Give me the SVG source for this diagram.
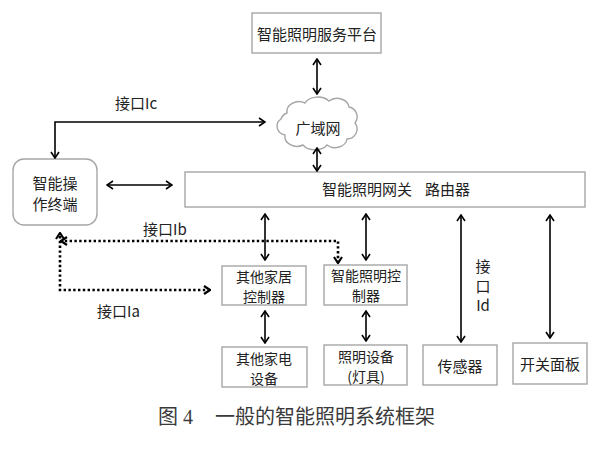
<svg xmlns="http://www.w3.org/2000/svg" width="615" height="449" viewBox="0 0 615 449">
<style>
.box{fill:#fff;stroke:#a6a6a6;stroke-width:1.4}
.t{font-family:"Noto Sans CJK SC","Liberation Sans",sans-serif;font-size:15px;fill:#222;text-anchor:middle;dominant-baseline:central}
.t2{font-family:"Noto Sans CJK SC","Liberation Sans",sans-serif;font-size:14px;fill:#222;text-anchor:middle;dominant-baseline:central}
.lbl{font-family:"Noto Sans CJK SC","Liberation Sans",sans-serif;font-size:15px;fill:#222;dominant-baseline:central}
.ar{fill:none;stroke:#000;stroke-width:1.6;marker-end:url(#ah);marker-start:url(#ah)}
.one{fill:none;stroke:#000;stroke-width:1.6;marker-end:url(#ah)}
.dot{fill:none;stroke:#000;stroke-width:2.6;stroke-dasharray:2.4 2.4;marker-end:url(#ah2);marker-start:url(#ah2)}
.cap{font-family:"Liberation Serif","Noto Sans CJK SC",serif;font-size:20px;fill:#3a3a3a;dominant-baseline:central}
</style>
<defs>
<marker id="ah" viewBox="0 0 10 10" refX="9" refY="5" markerWidth="10" markerHeight="10" markerUnits="userSpaceOnUse" orient="auto-start-reverse">
<path d="M3,1 L9,5 L3,9" fill="none" stroke="#000" stroke-width="1.6"/>
</marker>
<marker id="ah2" viewBox="0 0 10 10" refX="9" refY="5" markerWidth="10" markerHeight="10" markerUnits="userSpaceOnUse" orient="auto-start-reverse">
<path d="M3,1 L9,5 L3,9" fill="none" stroke="#000" stroke-width="2.2"/>
</marker>
</defs>
<rect width="615" height="449" fill="#fff"/>

<g id="platform">
<rect class="box" x="252" y="13" width="129" height="40"/>
<text class="t" x="317" y="33">智能照明服务平台</text>
</g>

<g id="wan">
<path class="box" d="M287,113 A12,10 0 0 1 305,103 A14,10 0 0 1 329,101 A12,10 0 0 1 349,107 A10,10 0 0 1 355,123 A10,10 0 0 1 347,139 A12,10 0 0 1 327,145 A14,10 0 0 1 303,145 A12,10 0 0 1 285,135 A10,9 0 0 1 281,119 A10,9 0 0 1 287,113 Z"/>
<text class="t" x="318" y="127">广域网</text>
</g>

<g id="terminal">
<rect class="box" x="13" y="159" width="84" height="66" rx="11"/>
<text class="t" x="55" y="182">智能操</text>
<text class="t" x="55" y="203">作终端</text>
</g>

<g id="gateway">
<rect class="box" x="185" y="172" width="400" height="35"/>
<text class="lbl" x="322" y="188">智能照明网关</text>
<text class="lbl" x="425" y="188">路由器</text>
</g>

<g id="home-ctrl">
<rect class="box" x="222" y="266" width="84" height="39"/>
<text class="t2" x="264" y="276">其他家居</text>
<text class="t2" x="264" y="296">控制器</text>
</g>

<g id="light-ctrl">
<rect class="box" x="324" y="265" width="83" height="40"/>
<text class="t2" x="366" y="275">智能照明控</text>
<text class="t2" x="366" y="295">制器</text>
</g>

<g id="appliance">
<rect class="box" x="222" y="347" width="85" height="40"/>
<text class="t2" x="264" y="358">其他家电</text>
<text class="t2" x="264" y="378">设备</text>
</g>

<g id="lighting">
<rect class="box" x="324" y="345" width="83" height="40"/>
<text class="t2" x="366" y="356">照明设备</text>
<text class="t2" x="366" y="376">(灯具)</text>
</g>

<g id="sensor">
<rect class="box" x="423" y="345" width="74" height="40"/>
<text class="t" x="460" y="365">传感器</text>
</g>

<g id="switch">
<rect class="box" x="513" y="343" width="74" height="41"/>
<text class="t" x="550" y="363">开关面板</text>
</g>

<g id="connectors">
<line class="ar" x1="317" y1="59" x2="317" y2="94"/>
<line class="ar" x1="317" y1="148" x2="317" y2="171"/>
<path class="one" d="M55,158 L55,122 L265,122" style="marker-start:url(#ah)"/>
<line class="ar" x1="107" y1="185" x2="172" y2="185"/>
<line class="ar" x1="265" y1="214" x2="265" y2="260"/>
<line class="ar" x1="366" y1="214" x2="366" y2="260"/>
<line class="ar" x1="265" y1="311" x2="265" y2="343"/>
<line class="ar" x1="366" y1="311" x2="366" y2="341"/>
<line class="ar" x1="461" y1="215" x2="461" y2="342"/>
<line class="ar" x1="550" y1="215" x2="550" y2="338"/>
<path class="dot" d="M338,263 L338,241 L61,241"/>
<path class="dot" d="M210,290 L60,290 L60,233"/>
</g>

<g id="labels">
<text class="lbl" x="115" y="102">接口Ic</text>
<text class="lbl" x="143" y="228">接口Ib</text>
<text class="lbl" x="97" y="310">接口Ia</text>
<text class="t" x="483" y="265">接</text>
<text class="t" x="483" y="285">口</text>
<text class="t" x="483" y="304">Id</text>
</g>

<g id="caption">
<text class="cap" x="158" y="417">图 4</text>
<text class="cap" x="215" y="417">一般的智能照明系统框架</text>
</g>
</svg>
